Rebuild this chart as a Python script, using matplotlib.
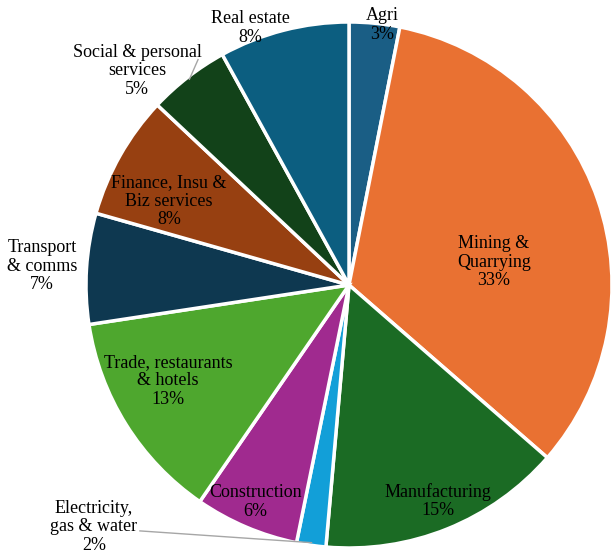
import matplotlib
matplotlib.use('Agg')
import matplotlib.pyplot as plt
import numpy as np

# Sector shares of output (%)
sectors = ['Agri', 'Mining &\nQuarrying', 'Manufacturing', 'Electricity,\ngas & water',
           'Construction', 'Trade, restaurants\n& hotels', 'Transport\n& comms',
           'Finance, Insu &\nBiz services', 'Social & personal\nservices', 'Real estate']
shares = [3.1, 33.3, 15.0, 1.8, 6.4, 13.0, 6.8, 7.6, 5.0, 8.0]
colors = ['#1A5E85', '#E97132', '#1B6B24', '#129FD8', '#A02A8F',
          '#4EA72E', '#0E3850', '#974011', '#124219', '#0C5E80']

# label centres in pie-radius units (layout only)
labelPos = [(0.125, 0.989), (0.551, 0.087), (0.338, -0.821), (-0.970, -0.920),
            (-0.357, -0.825), (-0.688, -0.365), (-1.167, 0.072), (-0.684, 0.319),
            (-0.806, 0.814), (-0.376, 0.977)]
# slices whose label sits outside and gets a leader line: index -> line start
leaderStart = {3: (-0.795, -0.935), 8: (-0.574, 0.857)}

plt.rcParams['font.family'] = ['Liberation Serif', 'DejaVu Serif']

fig = plt.figure(figsize=(6.15, 5.56), dpi=100)
ax = fig.add_axes([0, 0, 1, 1])

wedges, _ = ax.pie(shares, colors=colors, startangle=90, counterclock=False,
                   radius=1.0, wedgeprops=dict(edgecolor='white', linewidth=2.5))

for i, w in enumerate(wedges):
    txt = f"{sectors[i]}\n{shares[i]:.0f}%"
    x, y = labelPos[i]
    ax.text(x, y, txt, ha='center', va='center', fontsize=13,
            linespacing=1.12, color='black')
    if i in leaderStart:
        mid = np.deg2rad((w.theta1 + w.theta2) / 2)
        ex, ey = np.cos(mid), np.sin(mid)
        sx, sy = leaderStart[i]
        ax.plot([sx, ex * 0.99], [sy, ey * 0.99], color='#A6A6A6', lw=1.0)

ax.set_xlim(-349 / 263, (615 - 349) / 263)
ax.set_ylim((285 - 556) / 263, 285 / 263)
ax.set_aspect('auto')
ax.axis('off')

fig.savefig('out.png', dpi=100)
